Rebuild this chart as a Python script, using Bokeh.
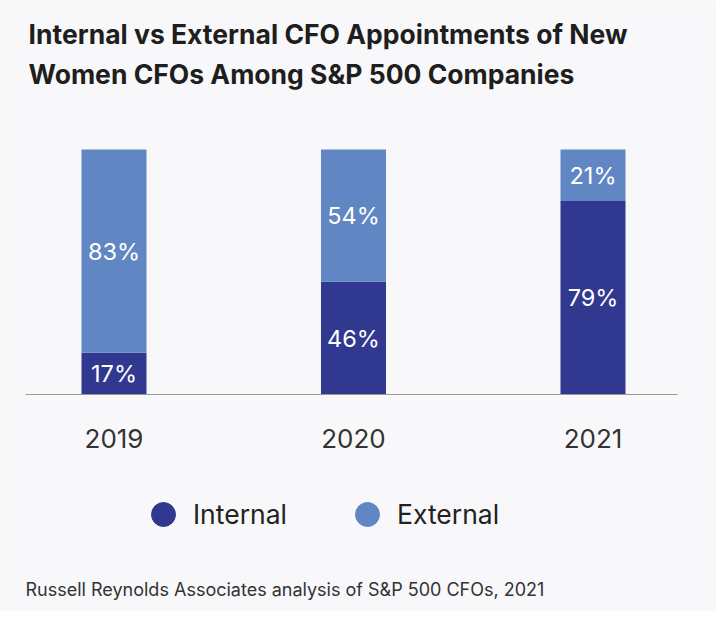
import math
from bokeh.plotting import figure
from bokeh.models import ColumnDataSource, Range1d, Label, Legend, LegendItem
from bokeh.core.properties import value
from bokeh.embed import file_html
from bokeh.resources import INLINE

# ---- data ----
years = ["2019", "2020", "2021"]
internal = [17, 46, 79]
external = [83, 54, 21]
series = ["Internal", "External"]
colors = ["#31388f", "#6186c4"]
title_lines = ["Internal vs External CFO Appointments of New",
               "Women CFOs Among S&P 500 Companies"]
source_note = "Russell Reynolds Associates analysis of S&P 500 CFOs, 2021"

# ---- layout ----
W, H = 716, 611
BG = "#f8f8fa"
FONT = "Inter"
xs = list(range(len(years)))

src = ColumnDataSource(dict(
    x=xs, year=years, Internal=internal, External=external,
    int_mid=[v / 2 for v in internal],
    ext_mid=[i + e / 2 for i, e in zip(internal, external)],
    int_lab=[f"{v}%" for v in internal],
    ext_lab=[f"{v}%" for v in external],
))

p = figure(width=W, height=H, output_backend="svg", toolbar_location=None,
           x_range=Range1d(-0.4739, 2.5157), y_range=Range1d(-88.57, 160.82),
           min_border=0, background_fill_color=BG, border_fill_color=BG,
           outline_line_color=None)
p.axis.visible = False
p.grid.visible = False

p.vbar_stack(series, x="x", width=0.2714, fill_color=colors, line_color=None, source=src)

# baseline
p.segment(x0=[xs[0] - 0.3695], x1=[xs[-1] + 0.3528], y0=[0], y1=[0],
          line_color="#9a9a9a", line_width=1)

# value labels
for ycol, tcol in (("int_mid", "int_lab"), ("ext_mid", "ext_lab")):
    p.text(x="x", y=ycol, text=tcol, source=src, text_align="center",
           text_baseline="middle", text_color="white",
           text_font=value(FONT), text_font_size="23.5px")

# year labels
p.text(x="x", y=-18, text="year", source=src, text_align="center",
       text_baseline="middle", text_color="#333333",
       text_font=value(FONT), text_font_size="26px")

# legend (one per item for exact placement)
nan = float("nan")
for name, col, lx in zip(series, colors, (133, 337)):
    r = p.scatter(x=[nan], y=[nan], marker="circle", size=24, color=col)
    lg = Legend(items=[LegendItem(label=name, renderers=[r])],
                location=(lx, 67), orientation="horizontal",
                glyph_width=60, glyph_height=60, label_standoff=0,
                padding=0, margin=0, border_line_color=None,
                background_fill_alpha=0,
                label_text_font=FONT, label_text_font_size="26.5px",
                label_text_color="#222222")
    p.add_layout(lg)

# title
for i, line in enumerate(title_lines):
    p.add_layout(Label(x=28, y=578 - 40 * i, x_units="screen", y_units="screen",
                       text=line, text_font=FONT, text_font_size="26.5px",
                       text_font_style="bold", text_color="#1e1e1e",
                       text_baseline="middle"))

# footnote
p.add_layout(Label(x=25, y=22, x_units="screen", y_units="screen",
                   text=source_note, text_font=FONT, text_font_size="18px",
                   text_color="#333333", text_baseline="middle"))

open("out.html", "w").write(file_html(p, INLINE))
